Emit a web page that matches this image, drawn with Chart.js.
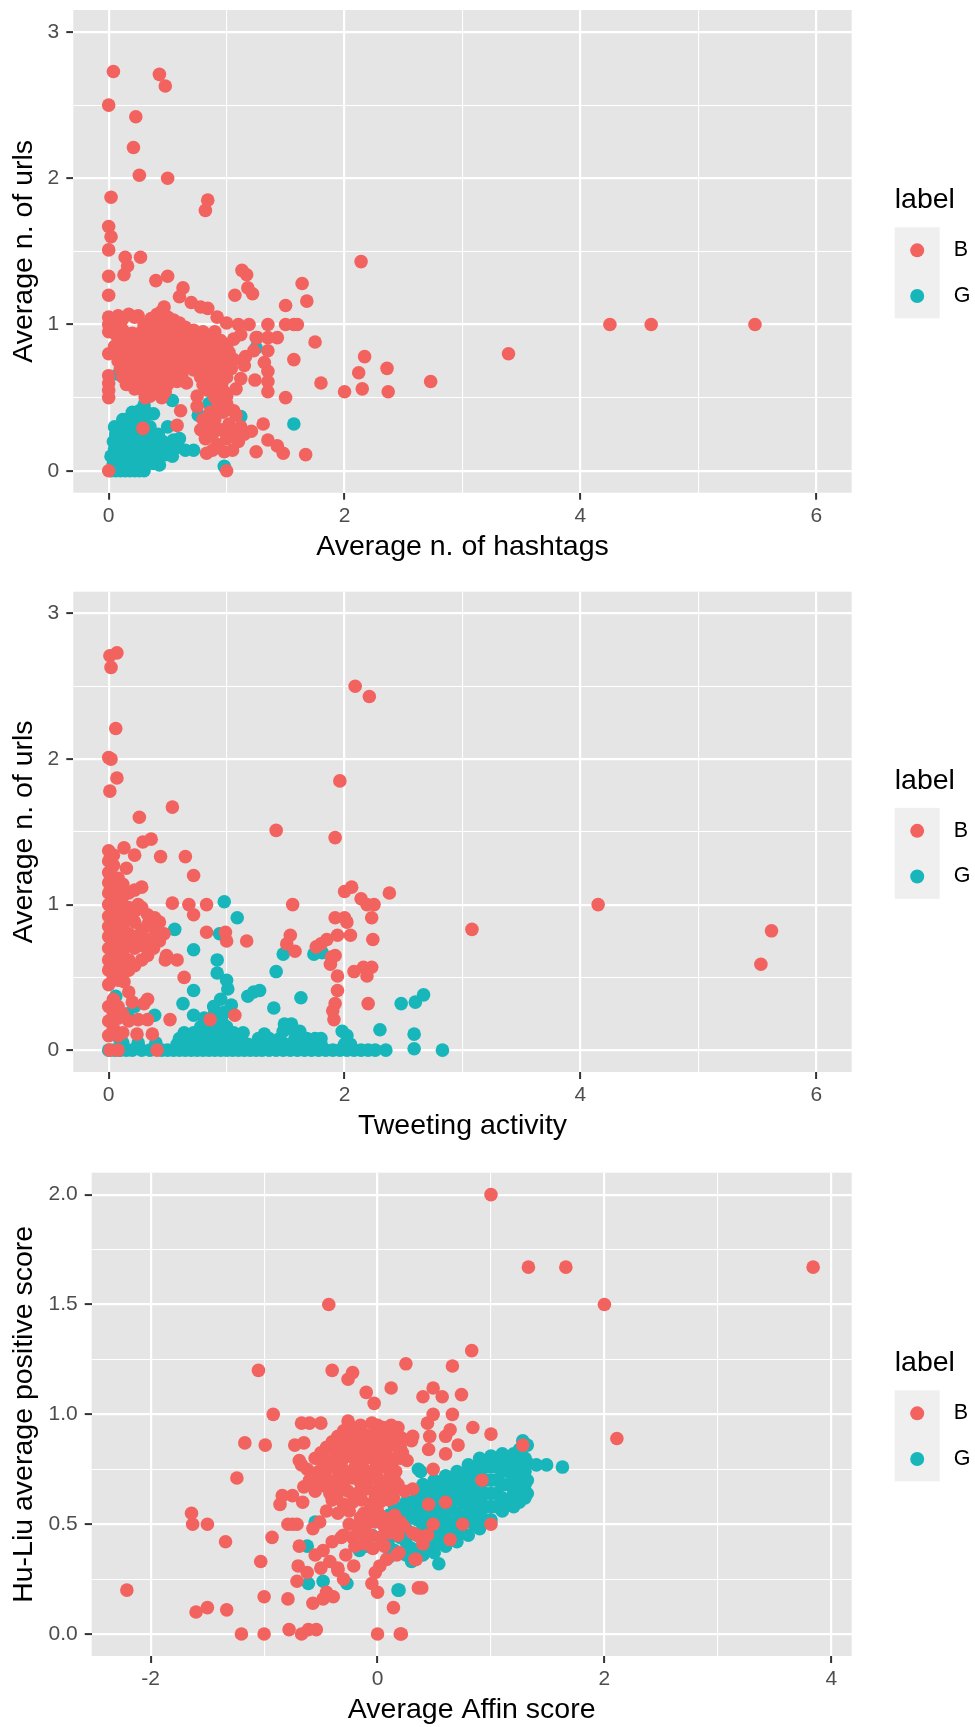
<!DOCTYPE html>
<html>
<head>
<meta charset="utf-8">
<script src="https://cdn.jsdelivr.net/npm/chart.js@4.4.1/dist/chart.umd.min.js"></script>
<style>
  body { margin: 0; background: #fff; }
  canvas { position: absolute; left: 0; }
</style>
</head>
<body>
<canvas id="c1" width="975" height="580" style="top:0"></canvas>
<canvas id="c2" width="975" height="580" style="top:580px"></canvas>
<canvas id="c3" width="975" height="567" style="top:1160px"></canvas>
<script>
// ---- data: [x, y] per account ----
const labels = ['B', 'G'];
const legendTitle = 'label';

// panel 1: average n. of hashtags vs average n. of urls
const hashtagsB = [
  [0.04,2.73],[0.43,2.71],[0.48,2.63],[0.00,2.50],[0.23,2.42],[0.21,2.21],[0.26,2.02],[0.50,2.00],
  [0.02,1.87],[0.84,1.85],[0.82,1.78],[0.00,1.67],[0.02,1.60],[0.00,1.51],[0.14,1.46],[0.27,1.46],
  [0.16,1.40],[0.13,1.34],[2.14,1.43],[0.00,1.33],[0.40,1.30],[0.50,1.33],[1.13,1.37],[1.17,1.34],
  [1.64,1.28],[0.00,1.20],[0.63,1.25],[0.60,1.19],[1.18,1.25],[1.22,1.21],[1.07,1.20],[1.68,1.16],
  [1.50,1.13],[0.70,1.15],[0.78,1.12],[0.84,1.11],
  [1.57,1.00],[1.35,1.00],[1.50,1.00],[1.60,1.00],[1.75,0.88],[1.57,0.76],[2.17,0.78],[2.36,0.70],
  [2.12,0.67],[1.80,0.60],[2.00,0.54],[2.15,0.56],[2.37,0.54],[2.73,0.61],[1.50,0.50],[1.24,0.62],
  [1.35,0.61],[1.35,0.54],[1.43,0.91],[1.26,0.91],[1.35,0.91],[1.35,0.82],[1.31,0.32],[1.25,0.13],
  [1.35,0.21],[1.43,0.17],[1.48,0.12],[1.67,0.11],[1.21,0.27],[1.00,0.00],[0.83,0.12],[0.00,0.00],
  [0.29,0.29],[0.58,0.31],[0.61,0.41],[0.31,0.50],
  [3.39,0.80],[4.25,1.00],[4.60,1.00],[5.48,1.00],
  [0.92,1.05],[1.00,1.01],[1.10,1.00],[1.19,1.00],[1.25,0.91],[1.12,0.93],[1.06,0.90],[1.23,0.82],
  [1.32,0.74],[1.35,0.68],[1.16,0.78],[1.15,0.72],[1.12,0.63],[1.08,0.56],[1.00,0.51],[0.95,0.44],
  [1.06,0.41],[0.75,0.51],[0.75,0.44],
  [0.41,1.07],[0.47,1.12],[0.45,1.09],
  [0.00,1.05],[0.08,1.06],[0.12,1.04],[0.17,1.07],[0.22,1.05],[0.25,1.06],[0.36,1.04],[0.50,1.05],[0.55,1.03],
  [0.00,1.00],[0.05,0.99],[0.10,1.01],[0.30,1.00],[0.35,0.99],[0.40,1.01],[0.45,1.00],[0.50,0.98],[0.55,0.99],[0.60,1.01],[0.65,0.98],
  [0.00,0.95],[0.05,0.94],[0.12,0.96],[0.20,0.94],[0.28,0.95],[0.33,0.94],[0.38,0.96],[0.44,0.95],[0.50,0.93],[0.56,0.95],[0.62,0.94],[0.72,0.96],[0.80,0.95],[0.90,0.95],
  [0.08,0.90],[0.15,0.89],[0.25,0.90],[0.30,0.88],[0.36,0.90],[0.42,0.89],[0.47,0.91],[0.53,0.89],[0.60,0.90],[0.68,0.91],[0.75,0.89],[0.85,0.90],[0.95,0.89],
  [0.05,0.85],[0.12,0.84],[0.18,0.86],[0.24,0.85],[0.30,0.84],[0.35,0.86],[0.40,0.85],[0.46,0.84],[0.52,0.86],[0.58,0.85],[0.65,0.84],[0.72,0.86],[0.80,0.85],[0.88,0.84],[1.00,0.85],
  [0.00,0.80],[0.10,0.79],[0.15,0.81],[0.20,0.80],[0.26,0.79],[0.32,0.81],[0.38,0.80],[0.44,0.79],[0.50,0.81],[0.56,0.80],[0.62,0.79],[0.70,0.81],[0.78,0.80],[0.86,0.79],[0.94,0.80],[1.02,0.81],
  [0.08,0.75],[0.14,0.74],[0.20,0.76],[0.25,0.75],[0.30,0.74],[0.36,0.76],[0.42,0.75],[0.48,0.74],[0.54,0.76],[0.60,0.75],[0.66,0.74],[0.75,0.76],[0.82,0.75],[0.90,0.74],[0.98,0.75],[1.06,0.76],
  [0.10,0.70],[0.16,0.69],[0.22,0.71],[0.28,0.70],[0.34,0.69],[0.40,0.71],[0.46,0.70],[0.52,0.69],[0.58,0.71],[0.64,0.70],[0.72,0.69],[0.80,0.71],[0.88,0.70],[0.96,0.69],[1.04,0.70],
  [0.00,0.65],[0.12,0.64],[0.18,0.66],[0.24,0.65],[0.30,0.64],[0.36,0.66],[0.42,0.65],[0.48,0.64],[0.55,0.66],[0.62,0.65],[0.78,0.64],[0.85,0.66],[0.92,0.65],[1.00,0.64],
  [0.00,0.60],[0.15,0.59],[0.20,0.61],[0.26,0.60],[0.32,0.59],[0.38,0.61],[0.44,0.60],[0.50,0.59],[0.58,0.61],[0.66,0.60],[0.80,0.59],[0.88,0.61],[0.96,0.60],
  [0.00,0.55],[0.22,0.56],[0.30,0.54],[0.36,0.55],[0.42,0.56],[0.48,0.54],[0.84,0.55],[0.92,0.56],[0.98,0.54],
  [0.00,0.50],[0.35,0.51],[0.45,0.50],[0.90,0.50],[0.95,0.52],
  [0.78,0.28],[0.82,0.22],[0.85,0.30],[0.88,0.25],[0.90,0.35],[0.92,0.18],[0.95,0.28],[0.97,0.40],
  [1.00,0.22],[1.02,0.32],[1.05,0.26],[1.08,0.38],[1.10,0.20],[1.12,0.30],[0.86,0.40],[0.93,0.45],
  [1.00,0.46],[0.98,0.13],[1.05,0.14],[0.88,0.14],[1.15,0.25],[0.80,0.35]
];
const hashtagsG = [
  [0.02,0.00],[0.06,0.00],[0.10,0.00],[0.14,0.00],[0.18,0.00],[0.22,0.00],[0.26,0.00],[0.30,0.00],
  [0.04,0.05],[0.08,0.05],[0.12,0.05],[0.16,0.05],[0.20,0.05],[0.24,0.05],[0.28,0.05],[0.33,0.05],[0.38,0.05],[0.43,0.04],
  [0.02,0.10],[0.06,0.10],[0.10,0.10],[0.15,0.10],[0.20,0.10],[0.25,0.10],[0.30,0.10],[0.36,0.10],[0.42,0.10],[0.48,0.11],[0.54,0.10],
  [0.05,0.15],[0.10,0.15],[0.14,0.15],[0.19,0.15],[0.24,0.15],[0.30,0.15],[0.36,0.15],[0.44,0.16],[0.52,0.15],[0.58,0.16],
  [0.04,0.20],[0.08,0.20],[0.13,0.20],[0.18,0.20],[0.24,0.20],[0.30,0.20],[0.38,0.21],[0.46,0.20],[0.55,0.21],
  [0.06,0.25],[0.12,0.25],[0.18,0.25],[0.23,0.25],[0.28,0.25],[0.34,0.26],[0.42,0.25],[0.60,0.22],
  [0.05,0.30],[0.10,0.30],[0.16,0.30],[0.22,0.31],[0.28,0.30],[0.35,0.30],[0.50,0.30],
  [0.12,0.35],[0.18,0.36],[0.24,0.35],[0.30,0.35],[0.20,0.40],[0.26,0.41],[0.32,0.40],[0.38,0.39],[0.30,0.45],
  [0.82,0.91],[1.25,0.84],[1.57,0.32],[0.76,0.38],[0.72,0.14],[0.85,0.46],[1.12,0.37],[0.98,0.03],
  [0.54,0.48],[0.08,0.66],[0.65,0.14]
];

// panel 2: tweeting activity vs average n. of urls
const activityB = [
  [0.01,2.71],[0.07,2.73],[0.02,2.63],[0.06,2.21],[0.00,2.01],[0.02,2.00],[0.07,1.87],[0.01,1.78],
  [0.26,1.60],[0.54,1.67],[0.29,1.43],[0.36,1.45],[0.13,1.39],[0.22,1.34],[0.44,1.33],[0.65,1.33],
  [0.15,1.25],[0.72,1.20],[2.09,2.50],[2.21,2.43],[1.96,1.85],[1.42,1.51],[1.92,1.46],[2.38,1.08],
  [2.00,1.09],[2.06,1.12],[2.14,1.04],[2.19,1.00],[2.25,1.00],[2.23,0.91],[1.92,0.91],[2.00,0.91],
  [2.02,0.88],[1.94,0.79],[2.05,0.79],[2.24,0.76],[1.56,1.00],[1.54,0.79],[1.51,0.73],[1.58,0.68],
  [1.80,0.73],[1.76,0.71],[1.85,0.76],[1.89,0.64],[1.92,0.65],[1.88,0.59],[1.94,0.51],[1.94,0.41],
  [1.92,0.32],[1.90,0.27],[1.91,0.21],[2.08,0.54],[2.16,0.57],[2.23,0.57],[2.19,0.51],[2.20,0.32],
  [0.54,1.01],[0.68,1.00],[0.83,1.00],[0.72,0.93],[0.83,0.81],[0.99,0.81],[1.00,0.75],[1.17,0.75],
  [0.64,0.50],[0.49,0.65],[0.58,0.62],[0.86,0.21],[1.07,0.24],[0.41,0.00],[0.37,0.11],[0.24,0.11],
  [0.52,0.21],[0.33,0.21],[0.25,0.21],[0.33,0.35],[0.30,0.32],[0.17,0.40],[0.20,0.33],[0.01,0.00],
  [0.08,0.00],[3.08,0.83],[4.15,1.00],[5.53,0.59],[5.62,0.82],
  [0.25,1.00],[0.23,0.96],[0.33,0.93],[0.39,0.91],[0.41,0.79],[0.47,0.80],[0.36,0.74],[0.33,0.65],
  [0.22,0.58],[0.16,0.57],[0.13,0.47],
  [0.00,0.10],[0.00,0.20],[0.00,0.30],[0.00,0.45],[0.00,0.55],[0.00,0.62],[0.00,0.70],[0.00,0.78],
  [0.00,0.85],[0.00,0.92],[0.00,1.00],[0.00,1.08],[0.00,1.15],[0.00,1.22],[0.00,1.30],[0.00,1.37],
  [0.04,0.15],[0.04,0.25],[0.04,0.35],[0.04,0.50],[0.04,0.60],[0.04,0.66],[0.04,0.74],[0.04,0.82],
  [0.04,0.90],[0.04,0.96],[0.04,1.04],[0.04,1.12],[0.04,1.19],[0.04,1.27],[0.04,1.34],
  [0.08,0.10],[0.08,0.22],[0.08,0.30],[0.08,0.48],[0.08,0.56],[0.08,0.64],[0.08,0.70],[0.08,0.80],
  [0.08,0.87],[0.08,0.94],[0.08,1.02],[0.08,1.10],[0.08,1.18],
  [0.12,0.12],[0.12,0.25],[0.12,0.52],[0.12,0.60],[0.12,0.68],[0.12,0.76],[0.12,0.84],[0.12,0.92],
  [0.12,1.00],[0.12,1.06],[0.12,1.14],
  [0.17,0.20],[0.17,0.55],[0.17,0.62],[0.17,0.72],[0.17,0.80],[0.17,0.90],[0.17,0.98],[0.17,1.08],
  [0.22,0.70],[0.22,0.78],[0.22,0.88],[0.22,1.10],[0.28,0.62],[0.28,0.72],[0.28,0.82],[0.28,0.98],
  [0.28,1.12],[0.33,0.76],[0.33,0.86],[0.38,0.70],[0.38,0.84],[0.43,0.75],[0.43,0.88],[0.48,0.62]
];
const activityG = [
  [0.98,1.02],[1.09,0.91],[0.56,0.83],[0.94,0.80],[0.72,0.69],[0.92,0.62],[0.92,0.53],[1.00,0.48],
  [1.01,0.42],[1.48,0.66],[1.42,0.54],[1.74,0.66],[1.81,0.67],[1.18,0.37],[1.23,0.40],[1.28,0.41],
  [0.72,0.41],[0.63,0.32],[1.63,0.36],[1.40,0.29],[2.30,0.14],[2.48,0.32],[2.60,0.33],[2.67,0.38],
  [2.59,0.11],[2.59,0.01],[2.83,0.00],[0.39,0.24],[0.22,0.30],[0.06,0.37],[0.72,0.24],[0.81,0.22],
  [0.89,0.30],[0.95,0.35],[1.04,0.31],[0.03,0.30],[0.16,0.25],[0.09,0.08],
  [0.00,0.00],[0.05,0.00],[0.10,0.00],[0.15,0.00],[0.20,0.00],[0.28,0.00],[0.35,0.00],[0.45,0.00],
  [0.50,0.00],[0.12,0.05],[0.25,0.05],[0.40,0.05],
  [0.55,0.00],[0.60,0.00],[0.65,0.00],[0.70,0.00],[0.75,0.00],[0.80,0.00],[0.85,0.00],[0.90,0.00],
  [0.95,0.00],[1.00,0.00],[1.05,0.00],[1.10,0.00],[1.15,0.00],[1.20,0.00],
  [0.58,0.04],[0.68,0.04],[0.78,0.04],[0.88,0.04],[0.98,0.04],[1.08,0.04],[1.18,0.04],
  [0.60,0.08],[0.66,0.08],[0.74,0.08],[0.82,0.08],[0.90,0.08],[0.96,0.08],[1.02,0.08],[1.12,0.08],
  [0.64,0.12],[0.72,0.12],[0.80,0.12],[0.87,0.12],[0.94,0.12],[1.00,0.12],[1.06,0.12],[1.14,0.12],
  [0.78,0.16],[0.86,0.16],[0.92,0.16],[1.00,0.16],[0.88,0.20],[0.96,0.20],[0.90,0.26],[0.98,0.26],
  [1.25,0.00],[1.30,0.00],[1.36,0.00],[1.42,0.00],[1.48,0.00],[1.54,0.00],[1.60,0.00],[1.66,0.00],
  [1.72,0.00],[1.78,0.00],[1.84,0.00],[1.90,0.00],[1.96,0.00],[2.02,0.00],[2.08,0.00],[2.14,0.00],
  [2.20,0.00],[2.26,0.00],[2.35,0.00],
  [1.30,0.04],[1.40,0.04],[1.50,0.04],[1.60,0.04],[1.70,0.04],[1.80,0.04],[2.00,0.04],[2.05,0.04],
  [1.27,0.08],[1.36,0.08],[1.45,0.08],[1.58,0.08],[1.68,0.08],[1.75,0.08],[2.02,0.10],[1.80,0.08],
  [1.32,0.11],[1.48,0.13],[1.57,0.14],[1.62,0.13],[1.98,0.13],[1.49,0.18],[1.55,0.18]
];

// panel 3: average Affin score vs Hu-Liu average positive score
const affinB = [
  [-2.21,0.20],[-1.64,0.55],[-1.63,0.50],[-1.50,0.50],[-1.60,0.10],[-1.50,0.12],[-1.34,0.42],[-1.33,0.11],
  [-1.20,0.00],[-1.00,0.00],[-1.24,0.71],[-1.17,0.87],[-0.99,0.86],[-1.05,1.20],[-0.92,1.00],[-1.03,0.33],
  [-1.00,0.17],[-0.93,0.44],[-0.86,0.59],[-0.84,0.63],[-0.75,0.63],[-0.79,0.50],[-0.75,0.50],[-0.71,0.50],
  [-0.79,0.16],[-0.78,0.02],[-0.67,0.00],[-0.61,0.02],[-0.54,0.02],[-0.73,0.86],[-0.65,0.87],[-0.67,0.96],
  [-0.60,0.96],[-0.50,0.96],[-0.43,1.50],[-0.40,1.20],[-0.26,1.16],[-0.22,1.19],[-0.10,1.10],[-0.03,1.05],
  [0.12,1.12],[0.25,1.23],[-0.69,0.40],[-0.70,0.31],[-0.71,0.24],[-0.57,0.14],[-0.45,0.19],[-0.39,0.17],
  [-0.48,0.16],[-0.57,0.48],[-0.51,0.51],[0.00,0.00],[0.21,0.00],[0.14,0.12],[0.00,0.19],[-0.05,0.23],
  [0.39,0.21],[0.34,0.34],
  [1.00,2.00],[1.33,1.67],[1.66,1.67],[2.00,1.50],[3.84,1.67],[2.11,0.89],[0.83,1.29],[0.66,1.22],
  [0.49,1.12],[0.40,1.08],[0.57,1.08],[0.74,1.09],[0.49,1.00],[0.66,1.00],[0.44,0.96],[0.84,0.94],
  [1.00,0.91],[0.19,0.90],[0.31,0.90],[0.46,0.90],[0.60,0.90],[0.64,0.93],[0.45,0.84],[0.60,0.82],
  [0.71,0.86],[0.20,0.80],[0.49,0.75],[0.92,0.70],[1.28,0.86],[0.31,0.66],[0.45,0.59],[0.60,0.60],
  [0.19,0.50],[0.23,0.49],[0.31,0.46],[0.49,0.50],[0.75,0.50],[1.00,0.50],[0.64,0.43],[0.40,0.41],
  [0.44,0.45],[0.35,0.45],[0.33,0.34],[0.36,0.21],[0.20,0.00],[0.19,0.37],
  [-0.69,0.79],[-0.67,0.77],[-0.65,0.67],[-0.57,0.70],[-0.26,0.97],[-0.24,0.93],
  [-0.25,0.95],[-0.15,0.95],[-0.05,0.96],[0.00,0.95],[0.05,0.94],[0.12,0.95],[0.18,0.94],
  [-0.35,0.90],[-0.28,0.89],[-0.20,0.90],[-0.12,0.91],[-0.06,0.90],[0.02,0.89],[0.08,0.90],[0.15,0.91],[0.22,0.89],[0.30,0.88],
  [-0.45,0.85],[-0.38,0.84],[-0.30,0.86],[-0.22,0.85],[-0.15,0.84],[-0.08,0.86],[0.00,0.85],[0.06,0.84],[0.12,0.86],[0.20,0.85],
  [-0.55,0.80],[-0.48,0.81],[-0.40,0.79],[-0.32,0.80],[-0.25,0.81],[-0.18,0.79],[-0.10,0.80],[-0.04,0.81],[0.04,0.79],[0.10,0.80],[0.18,0.81],[0.26,0.79],
  [-0.62,0.75],[-0.52,0.74],[-0.44,0.76],[-0.36,0.75],[-0.28,0.74],[-0.20,0.76],[-0.12,0.75],[-0.05,0.74],[0.02,0.76],[0.10,0.75],[0.16,0.74],
  [-0.60,0.70],[-0.45,0.71],[-0.38,0.69],[-0.30,0.70],[-0.22,0.71],[-0.15,0.69],[-0.08,0.70],[0.00,0.71],[0.08,0.69],[0.15,0.70],
  [-0.55,0.65],[-0.42,0.64],[-0.34,0.66],[-0.26,0.65],[-0.18,0.64],[-0.10,0.66],[-0.02,0.65],[0.06,0.64],[0.14,0.66],[0.24,0.65],
  [-0.66,0.60],[-0.40,0.61],[-0.30,0.59],[-0.22,0.60],[-0.14,0.61],[-0.06,0.59],[0.02,0.60],[0.10,0.61],
  [-0.45,0.56],[-0.35,0.55],[-0.25,0.56],[-0.12,0.55],[0.00,0.56],
  [-0.30,0.925],[-0.16,0.93],[-0.02,0.92],[0.10,0.925],[-0.40,0.875],[-0.26,0.87],[-0.12,0.88],[0.03,0.87],[0.16,0.875],
  [-0.50,0.825],[-0.36,0.83],[-0.21,0.825],[-0.07,0.82],[0.07,0.83],[0.22,0.825],
  [-0.48,0.775],[-0.32,0.78],[-0.16,0.775],[-0.01,0.77],[0.13,0.78],[-0.52,0.725],[-0.34,0.72],[-0.18,0.725],[-0.04,0.73],[0.11,0.725],
  [-0.48,0.675],[-0.30,0.68],[-0.14,0.675],[0.02,0.67],[0.18,0.68],[-0.36,0.625],[-0.18,0.63],[-0.02,0.625],[0.14,0.62],
  [-0.15,0.53],[-0.05,0.54],[0.05,0.53],[0.15,0.54],
  [-0.25,0.50],[-0.18,0.49],[-0.10,0.50],[-0.02,0.51],[0.06,0.49],[0.14,0.50],[0.20,0.51],
  [-0.30,0.45],[-0.22,0.44],[-0.14,0.46],[-0.06,0.45],[0.02,0.44],[0.10,0.46],[0.18,0.45],
  [-0.20,0.40],[-0.12,0.41],[-0.04,0.39],[0.06,0.40],
  [-0.55,0.36],[-0.48,0.38],[-0.42,0.33],[-0.35,0.30],[-0.28,0.36],[-0.62,0.28],[-0.40,0.42],[-0.32,0.44],
  [-0.50,0.30],[-0.30,0.25],[-0.35,0.29],[-0.21,0.31],[-0.02,0.28],[0.02,0.31],[0.08,0.34],[0.17,0.36]
];
const affinG = [
  [0.05,0.42],[0.05,0.50],[0.15,0.38],[0.15,0.45],[0.15,0.52],[0.15,0.58],
  [0.25,0.36],[0.25,0.42],[0.25,0.48],[0.25,0.55],[0.25,0.60],
  [0.35,0.38],[0.35,0.45],[0.35,0.52],[0.35,0.58],[0.35,0.63],
  [0.45,0.40],[0.45,0.47],[0.45,0.54],[0.45,0.60],[0.45,0.66],
  [0.55,0.42],[0.55,0.48],[0.55,0.55],[0.55,0.62],[0.55,0.68],
  [0.65,0.44],[0.65,0.50],[0.65,0.57],[0.65,0.64],[0.65,0.70],
  [0.75,0.46],[0.75,0.53],[0.75,0.60],[0.75,0.66],[0.75,0.72],
  [0.85,0.50],[0.85,0.56],[0.85,0.62],[0.85,0.68],[0.85,0.74],
  [0.95,0.52],[0.95,0.58],[0.95,0.64],[0.95,0.70],[0.95,0.76],
  [1.05,0.58],[1.05,0.64],[1.05,0.70],[1.05,0.76],[1.05,0.80],
  [1.15,0.60],[1.15,0.68],[1.15,0.74],[1.15,0.80],
  [1.25,0.60],[1.25,0.66],[1.25,0.72],[1.25,0.78],[1.25,0.84],
  [1.32,0.64],[1.32,0.70],[1.32,0.78],[1.32,0.86],
  [0.10,0.40],[0.10,0.47],[0.10,0.54],[0.20,0.37],[0.20,0.44],[0.20,0.51],[0.20,0.57],
  [0.30,0.33],[0.30,0.39],[0.30,0.46],[0.30,0.53],[0.30,0.60],
  [0.40,0.36],[0.40,0.42],[0.40,0.49],[0.40,0.56],[0.40,0.62],[0.40,0.68],
  [0.50,0.37],[0.50,0.44],[0.50,0.51],[0.50,0.58],[0.50,0.64],[0.50,0.70],
  [0.60,0.40],[0.60,0.46],[0.60,0.52],[0.60,0.59],[0.60,0.66],[0.60,0.72],
  [0.70,0.42],[0.70,0.49],[0.70,0.55],[0.70,0.62],[0.70,0.68],[0.70,0.74],
  [0.80,0.45],[0.80,0.52],[0.80,0.58],[0.80,0.64],[0.80,0.70],[0.80,0.77],
  [0.90,0.48],[0.90,0.54],[0.90,0.60],[0.90,0.66],[0.90,0.72],[0.90,0.78],
  [1.00,0.52],[1.00,0.58],[1.00,0.64],[1.00,0.70],[1.00,0.76],[1.00,0.81],
  [1.10,0.56],[1.10,0.62],[1.10,0.68],[1.10,0.74],[1.10,0.79],
  [1.20,0.58],[1.20,0.64],[1.20,0.70],[1.20,0.76],[1.20,0.82],
  [1.30,0.62],[1.30,0.68],[1.30,0.74],[1.30,0.80],
  [1.49,0.77],[1.63,0.76],[0.36,0.75],[0.38,0.74],[-0.55,0.51],[-0.62,0.40],[-0.61,0.23],[-0.48,0.24],
  [-0.27,0.23],[0.18,0.20],[-0.16,0.38],[-0.10,0.40],[0.00,0.60],[0.54,0.32],[0.10,0.35],[-0.05,0.45],
  [1.40,0.77],[1.10,0.82],[0.90,0.80],[1.28,0.88],[0.19,0.20],[1.29,0.63]
];

// ---- axis ticks ----
const urlTicks = [0, 1, 2, 3];
const urlMinor = [0.5, 1.5, 2.5];
const countTicks = [0, 2, 4, 6];
const countMinor = [1, 3, 5];
const affinTicks = [-2, 0, 2, 4];
const affinMinor = [-1, 1, 3];
const huliuTicks = [0, 0.5, 1, 1.5, 2];
const huliuMinor = [0.25, 0.75, 1.25, 1.75];

const FONT = "'Liberation Sans', Arial, Helvetica, sans-serif";
const RED = '#F2635F';
const TEAL = '#17B6BA';

// grey panel behind the points and a ggplot-like legend at the right
const ggPanel = {
    id: 'ggPanel',
    beforeDraw(chart) {
        const a = chart.chartArea;
        const ctx = chart.ctx;
        ctx.save();
        ctx.fillStyle = '#E5E5E5';
        ctx.fillRect(a.left, a.top, a.right - a.left, a.bottom - a.top);
        ctx.restore();
    },
    afterDraw(chart) {
        const a = chart.chartArea;
        const ctx = chart.ctx;
        const cy = (a.top + a.bottom) / 2;
        const x0 = a.right + 43;
        ctx.save();
        ctx.textBaseline = 'middle';
        ctx.fillStyle = '#000';
        ctx.font = '28.5px ' + FONT;
        ctx.fillText(legendTitle, x0, cy - 51);
        ctx.fillStyle = '#EFEFEF';
        ctx.fillRect(x0, cy - 24, 45, 91);
        ctx.font = '21.5px ' + FONT;
        chart.data.datasets.forEach(function (ds, i) {
            const y = cy - 1 + i * 45.7;
            ctx.fillStyle = ds.backgroundColor;
            ctx.beginPath();
            ctx.arc(x0 + 22.5, y, 7, 0, 2 * Math.PI);
            ctx.fill();
            ctx.fillStyle = '#000';
            ctx.fillText(ds.label, x0 + 59, y);
        });
        ctx.restore();
    }
};

function gridAxis(o) {
    return {
        type: 'linear',
        min: o.min,
        max: o.max,
        afterBuildTicks: function (s) {
            s.ticks = o.major.concat(o.minor).sort((a, b) => a - b).map(v => ({ value: v }));
        },
        afterFit: o.fit,
        border: { display: false },
        grid: {
            color: '#fff',
            lineWidth: c => (c.tick && o.major.includes(c.tick.value)) ? 2.2 : 1.1,
            tickColor: c => (c.tick && o.major.includes(c.tick.value)) ? '#333' : 'rgba(0,0,0,0)',
            tickLength: 7,
            tickWidth: 2
        },
        ticks: {
            autoSkip: false,
            maxRotation: 0,
            padding: o.pad,
            color: '#4D4D4D',
            font: { family: FONT, size: 21 },
            callback: v => o.major.includes(v) ? o.fmt(v) : ''
        },
        title: {
            display: true,
            text: o.title,
            color: '#000',
            font: { family: FONT, size: 28.5 },
            padding: o.titlePad
        }
    };
}

function makePanel(id, p) {
    const toXY = arr => arr.map(d => ({ x: d[0], y: d[1] }));
    return new Chart(document.getElementById(id), {
        type: 'scatter',
        data: {
            datasets: [
                { label: labels[0], data: toXY(p.b), backgroundColor: RED, pointRadius: 6.8, borderWidth: 0 },
                { label: labels[1], data: toXY(p.g), backgroundColor: TEAL, pointRadius: 6.8, borderWidth: 0 }
            ]
        },
        options: {
            responsive: false,
            animation: false,
            events: [],
            layout: { padding: { left: 0, right: 123.3, top: p.top, bottom: 0 } },
            plugins: { legend: { display: false }, tooltip: { enabled: false } },
            scales: {
                x: gridAxis({
                    min: p.xMin, max: p.xMax, major: p.xMajor, minor: p.xMinor, fmt: v => String(v),
                    title: p.xTitle, pad: 4, titlePad: { top: 0, bottom: p.titleBottom },
                    fit: s => { s.height = p.xHeight; s.paddingLeft = 0; s.paddingRight = 0; }
                }),
                y: gridAxis({
                    min: p.yMin, max: p.yMax, major: p.yMajor, minor: p.yMinor, fmt: p.yFmt,
                    title: p.yTitle, pad: 7, titlePad: { top: 7.5, bottom: 0 },
                    fit: s => { s.width = p.yWidth; s.paddingTop = 0; s.paddingBottom = 0; }
                })
            }
        },
        plugins: [ggPanel]
    });
}

makePanel('c1', {
    b: hashtagsB, g: hashtagsG,
    xMin: -0.3, xMax: 6.3, xMajor: countTicks, xMinor: countMinor, xTitle: 'Average n. of hashtags',
    yMin: -0.15, yMax: 3.15, yMajor: urlTicks, yMinor: urlMinor, yTitle: 'Average n. of urls', yFmt: v => String(v),
    top: 10, xHeight: 87.3, titleBottom: 16, yWidth: 73.3
});

makePanel('c2', {
    b: activityB, g: activityG,
    xMin: -0.3, xMax: 6.3, xMajor: countTicks, xMinor: countMinor, xTitle: 'Tweeting activity',
    yMin: -0.15, yMax: 3.15, yMajor: urlTicks, yMinor: urlMinor, yTitle: 'Average n. of urls', yFmt: v => String(v),
    top: 11.7, xHeight: 88, titleBottom: 17, yWidth: 73.3
});

makePanel('c3', {
    b: affinB, g: affinG,
    xMin: -2.52, xMax: 4.18, xMajor: affinTicks, xMinor: affinMinor, xTitle: 'Average Affin score',
    yMin: -0.1, yMax: 2.1, yMajor: huliuTicks, yMinor: huliuMinor, yTitle: 'Hu-Liu average positive score', yFmt: v => v.toFixed(1),
    top: 12.7, xHeight: 71, titleBottom: 0, yWidth: 91.7
});
</script>
</body>
</html>
